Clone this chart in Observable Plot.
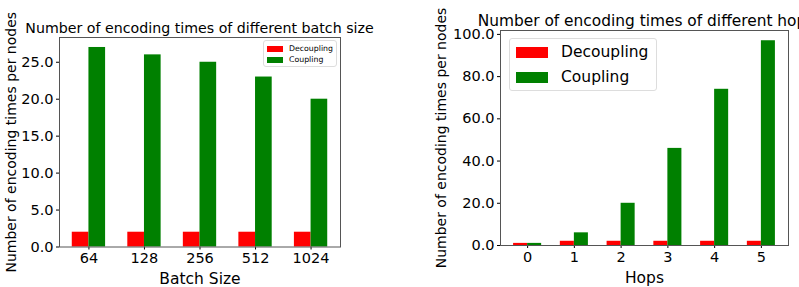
<!DOCTYPE html>
<html>
<head>
<meta charset="utf-8">
<script src="https://cdn.jsdelivr.net/npm/d3@7"></script>
<script src="https://cdn.jsdelivr.net/npm/@observablehq/plot@0.6"></script>
<style>
  html, body { margin: 0; padding: 0; background: #fff; overflow: hidden; }
  body { width: 799px; height: 287px; position: relative; font-family: "DejaVu Sans", sans-serif; color: #000; }
  .panel { position: absolute; top: 0; }
  .title { position: absolute; white-space: nowrap; line-height: 18px; transform: translateX(-50%); }
  .legend { position: absolute; background: #fff; border: 1px solid #ddd; border-radius: 3px; box-sizing: border-box; }
  .legend .row { position: absolute; white-space: nowrap; }
  .legend .sw { position: absolute; }
</style>
</head>
<body>
<script>
// ---- data ----
const batchSizes = ["64", "128", "256", "512", "1024"];
const batchDecoupling = [2, 2, 2, 2, 2];
const batchCoupling = [27, 26, 25, 23, 20];

const hops = ["0", "1", "2", "3", "4", "5"];
const hopsDecoupling = [1, 2, 2, 2, 2, 2];
const hopsCoupling = [1, 6, 20, 46, 74, 97];

const seriesNames = ["Decoupling", "Coupling"];
const seriesColors = ["#ff0000", "#008000"];
const barWidth = 0.3;

function rows(cats, dec, cou) {
  const out = [];
  cats.forEach((c, i) => {
    out.push({i, s: seriesNames[0], x1: i - barWidth, x2: i, v: dec[i]});
    out.push({i, s: seriesNames[1], x1: i, x2: i + barWidth, v: cou[i]});
  });
  return out;
}

function chart({cats, dec, cou, width, marginLeft, marginRight, marginTop, marginBottom, xLabel, yTicks, yLabelOffset, xLabelOffset}) {
  const data = rows(cats, dec, cou);
  const ymax = Math.max(...dec, ...cou) * 1.05;
  const n = cats.length;
  const pad = (n - 1 + 2 * barWidth) * 0.05;
  return Plot.plot({
    width, height: 287,
    marginLeft, marginRight, marginTop, marginBottom,
    style: {fontFamily: "DejaVu Sans, sans-serif", fontSize: "14.5px", color: "#000", background: "#fff", overflow: "visible"},
    x: {domain: [-barWidth - pad, n - 1 + barWidth + pad], ticks: d3.range(n), tickFormat: i => cats[i], tickSize: 3, tickPadding: 3, label: xLabel, labelAnchor: "center", labelOffset: xLabelOffset, labelArrow: false},
    y: {domain: [0, ymax], ticks: yTicks, tickFormat: d => d.toFixed(1), tickSize: 3, tickPadding: 3, label: "Number of encoding times per nodes", labelAnchor: "center", labelOffset: yLabelOffset, labelArrow: false},
    color: {domain: seriesNames, range: seriesColors},
    marks: [
      Plot.rectY(data, {x1: "x1", x2: "x2", y1: 0, y2: "v", fill: "s", inset: 0}),
      Plot.frame({stroke: "#555", strokeWidth: 1})
    ]
  });
}

const left = chart({cats: batchSizes, dec: batchDecoupling, cou: batchCoupling, width: 400,
  marginLeft: 59, marginRight: 60, marginTop: 37, marginBottom: 40.5, xLabel: "Batch Size",
  yTicks: [0, 5, 10, 15, 20, 25], yLabelOffset: 53, xLabelOffset: 37});
const right = chart({cats: hops, dec: hopsDecoupling, cou: hopsCoupling, width: 399,
  marginLeft: 100, marginRight: 11, marginTop: 30, marginBottom: 42, xLabel: "Hops",
  yTicks: [0, 20, 40, 60, 80, 100], yLabelOffset: 64, xLabelOffset: 37});

function panel(svg, x) {
  const d = document.createElement("div");
  d.className = "panel";
  d.style.left = x + "px";
  d.appendChild(svg);
  document.body.appendChild(d);
}
panel(left, 0);
panel(right, 400);

for (const svg of [left, right]) {
  svg.querySelectorAll("[aria-label='x-axis label']").forEach(t => t.style.fontSize = "15.5px");
  svg.querySelectorAll("[aria-label='y-axis label']").forEach(t => t.style.fontSize = "14px");
}

function title(text, cx, cy, size) {
  const t = document.createElement("div");
  t.className = "title";
  t.textContent = text;
  t.style.left = cx + "px";
  t.style.top = (cy - 9) + "px";
  t.style.fontSize = size + "px";
  document.body.appendChild(t);
}
title("Number of encoding times of different batch size", 199.5, 27.5, 14.2);
title("Number of encoding times of different hops", 646, 20.7, 15.4);

function legend({x, y, w, h, font, sw, swh, swx, tx, rowYs}) {
  const l = document.createElement("div");
  l.className = "legend";
  Object.assign(l.style, {left: x + "px", top: y + "px", width: w + "px", height: h + "px"});
  seriesNames.forEach((name, k) => {
    const s = document.createElement("div");
    s.className = "sw";
    Object.assign(s.style, {left: swx + "px", top: (rowYs[k] - swh / 2) + "px", width: sw + "px", height: swh + "px", background: seriesColors[k]});
    l.appendChild(s);
    const r = document.createElement("div");
    r.className = "row";
    r.textContent = name;
    Object.assign(r.style, {left: tx + "px", top: (rowYs[k] - font * 0.6) + "px", fontSize: font + "px", lineHeight: (font * 1.2) + "px"});
    l.appendChild(r);
  });
  document.body.appendChild(l);
}
legend({x: 263, y: 40, w: 74, h: 27, font: 7.8, sw: 16, swh: 6, swx: 3, tx: 25, rowYs: [7.5, 19]});
legend({x: 509, y: 38, w: 148, h: 53, font: 15.5, sw: 32, swh: 11, swx: 6, tx: 51, rowYs: [13.5, 38]});
</script>
</body>
</html>
